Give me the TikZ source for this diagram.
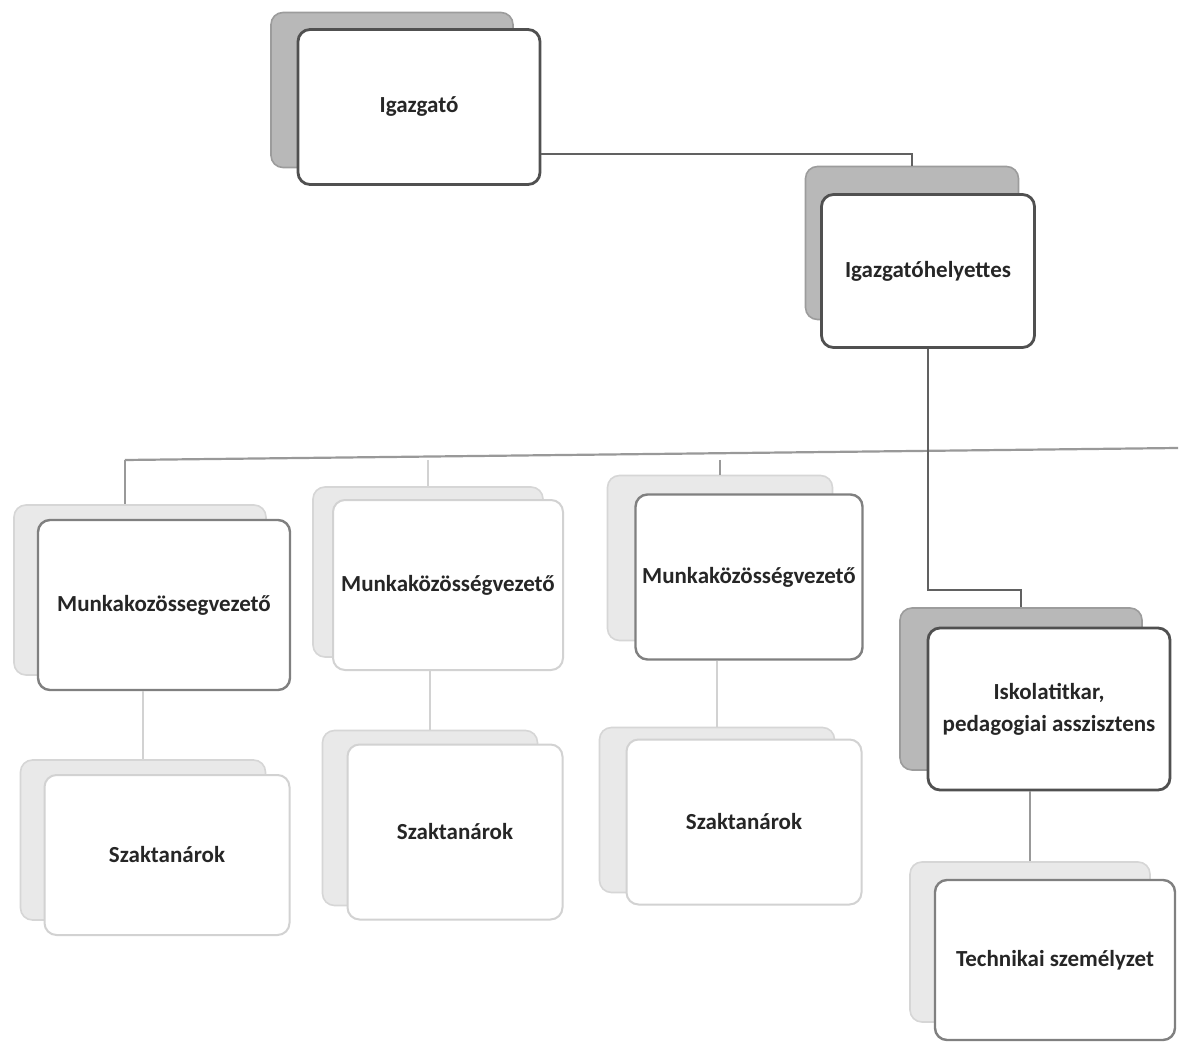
\documentclass[tikz,border=0pt]{standalone}
\usepackage{fontspec}
\setmainfont{Carlito}
\usetikzlibrary{calc}
\definecolor{darkline}{HTML}{505050}
\definecolor{midline}{HTML}{808080}
\definecolor{lightline}{HTML}{D2D2D2}
\definecolor{darkshade}{HTML}{B8B8B8}
\definecolor{lightshade}{HTML}{E9E9E9}
\tikzset{
  shadowdark/.style={draw=darkshade!85!black, fill=darkshade, rounded corners=6pt, line width=0.8pt},
  shadowlight/.style={draw=lightshade!92!black, fill=lightshade, rounded corners=6pt, line width=0.8pt},
  boxtext/.style={align=center, font=\fontsize{11.5}{16}\selectfont\bfseries, text=black!85},
  frontdark/.style={draw=darkline, fill=white, rounded corners=6pt, line width=1.4pt, boxtext},
  frontmid/.style={draw=midline, fill=white, rounded corners=6pt, line width=1.2pt, boxtext},
  frontlight/.style={draw=lightline, fill=white, rounded corners=6pt, line width=1.0pt, boxtext},
  linkdark/.style={draw=darkline!90, line width=1.3pt},
  linkmid/.style={draw=midline!80, line width=1.1pt},
  linklight/.style={draw=lightline, line width=1.0pt},
}
% name, cx, cy, w, h (front, px); shadow cx, cy; shadow style, front style
\newcommand\orgbox[9]{%
  \node[#8, minimum width=#4*0.5pt, minimum height=#5*0.5pt] (#1s) at (#6,#7) {};
  \node[#9, minimum width=#4*0.5pt, minimum height=#5*0.5pt] (#1f) at (#2,#3) {\orgtext};
}
\begin{document}
\begin{tikzpicture}[x=0.5pt,y=-0.5pt]
\useasboundingbox[fill=white] (0,0) rectangle (1182,1042);
% boxes
\def\orgtext{Igazgató}
\orgbox{ig}{419}{107}{242}{155}{392}{90}{shadowdark}{frontdark}
\def\orgtext{Igazgatóhelyettes}
\orgbox{ih}{928}{271}{213}{153}{912}{243}{shadowdark}{frontdark}
\def\orgtext{Munkakozössegvezető}
\orgbox{ma}{164}{605}{252}{170}{140}{590}{shadowlight}{frontmid}
\def\orgtext{Munkaközösségvezető}
\orgbox{mb}{448}{585}{230}{170}{428}{572}{shadowlight}{frontlight}
\def\orgtext{Munkaközösségvezető}
\orgbox{mc}{749}{577}{225}{165}{720}{558}{shadowlight}{frontmid}
\def\orgtext{Szaktanárok}
\orgbox{sa}{167}{855}{245}{160}{143}{840}{shadowlight}{frontlight}
\def\orgtext{Szaktanárok}
\orgbox{sb}{455}{832}{215}{175}{430}{818}{shadowlight}{frontlight}
\def\orgtext{Szaktanárok}
\orgbox{sc}{744}{822}{235}{165}{717}{810}{shadowlight}{frontlight}
\def\orgtext{Iskolatitkar,\\pedagogiai asszisztens}
\orgbox{ik}{1049}{709}{242}{162}{1021}{689}{shadowdark}{frontdark}
\def\orgtext{Technikai személyzet}
\orgbox{tk}{1055}{960}{240}{160}{1030}{942}{shadowlight}{frontmid}
% helper coordinates
\coordinate (busL) at (125,460);
\coordinate (busR) at (1178,448);
\coordinate (kink) at (0,590);
% connectors
\draw[linkdark] ($(igf.east)+(0,47)$) -| (ihs.north);
\draw[linkdark] ($(igf.south)+(11,0)$) -- ($(igf.south)+(11,0)$ |- busL);
\draw[linkmid] (busL) -- (busR);
\draw[linkmid] (busL) -- (busL |- mas.north);
\draw[linklight] (mbs.north |- busL) -- (mbs.north);
\draw[linkmid] (mcs.north |- busL) -- (mcs.north);
\draw[linkdark] (ihf.south) |- (iks.north |- kink) -- (iks.north);
\draw[linklight] (sas.north |- maf.south) -- (sas.north);
\draw[linklight] (sbs.north |- mbf.south) -- (sbs.north);
\draw[linklight] (scs.north |- mcf.south) -- (scs.north);
\draw[linkmid] (tks.north |- ikf.south) -- (tks.north);
\end{tikzpicture}
\end{document}
